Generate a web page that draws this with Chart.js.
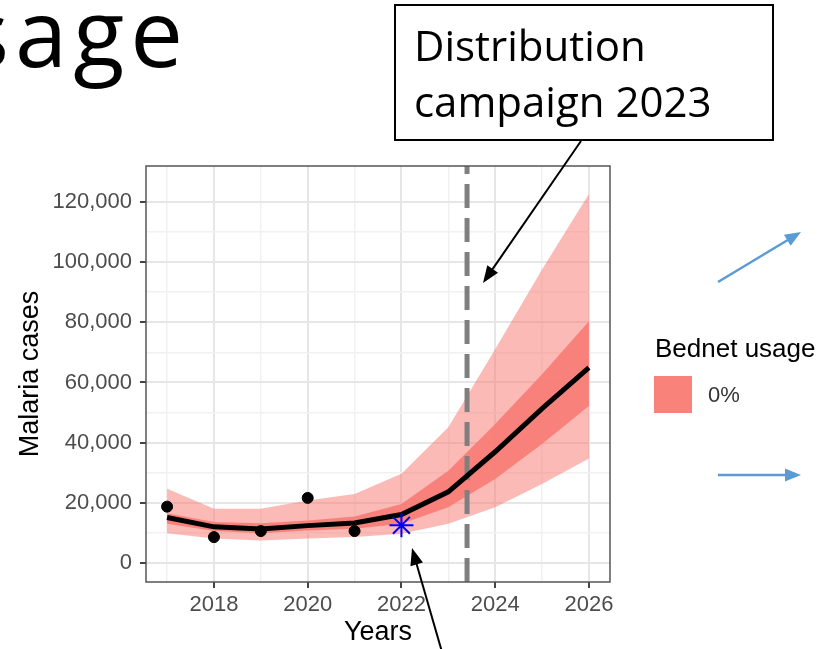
<!DOCTYPE html>
<html>
<head>
<meta charset="utf-8">
<script src="https://cdn.jsdelivr.net/npm/chart.js@4.4.1/dist/chart.umd.min.js"></script>
<style>
  html, body { margin: 0; padding: 0; background: #ffffff; }
  #wrap { width: 830px; height: 649px; position: relative; }
</style>
</head>
<body>
<div id="wrap"><canvas id="graph"></canvas></div>
<script>
// model output, yearly
const years = [2017, 2018, 2019, 2020, 2021, 2022, 2023, 2024, 2025, 2026]
const median = [15200, 12100, 11400, 12500, 13400, 16200, 23700, 37000, 51300, 64900]
const outerLow = [10000, 8200, 7600, 8200, 8700, 9800, 13100, 18600, 26300, 34800]
const outerHigh = [24700, 18100, 18100, 20800, 23000, 29700, 45100, 71000, 97500, 122500]
const innerLow = [13100, 10700, 10000, 10900, 11500, 13100, 18600, 28000, 39600, 52200]
const innerHigh = [16600, 13700, 13300, 14200, 15500, 19700, 30700, 46200, 62700, 80300]

// observed cases
const observedYears = [2017, 2018, 2019, 2020, 2021]
const observed = [18800, 8700, 10700, 21700, 10700]
const surveyYears = [2022]
const survey = [12600]

const campaignYear = 2023.4

// axes: grid positions (labels only on the major ones)
const xGrid = [2017, 2018, 2019, 2020, 2021, 2022, 2023, 2024, 2025, 2026]
const xLabels = [2018, 2020, 2022, 2024, 2026]
const yGrid = [0, 10000, 20000, 30000, 40000, 50000, 60000, 70000, 80000, 90000, 100000, 110000, 120000]
const yLabels = [0, 20000, 40000, 60000, 80000, 100000, 120000]
const yMin = -6200
const yMax = 131800
const xMin = 2016.55
const xMax = 2026.45

const legendTitle = "Bednet usage"
const legendLabels = ["0%"]
const calloutLines = ["Distribution", "campaign 2023"]

const toPoints = (xs, ys) => xs.map((x, i) => ({ x, y: ys[i] }))

const band = (values, order, fill, color) => ({
    data: toPoints(years, values),
    borderWidth: 0,
    pointRadius: 0,
    fill: fill,
    backgroundColor: color,
    order: order,
})

const isMajor = (labels) => (c) => c.tick && labels.includes(c.tick.value)
const gridStyle = (labels) => ({
    color: (c) => (isMajor(labels)(c) ? "#e6e6e6" : "#f1f1f1"),
    lineWidth: (c) => (isMajor(labels)(c) ? 2 : 1.5),
    tickColor: (c) => (isMajor(labels)(c) ? "#444444" : "transparent"),
    tickLength: 6,
    tickWidth: 2,
})

const drawArrow = (ctx, x1, y1, x2, y2, color, width, headLen, headW) => {
    const ang = Math.atan2(y2 - y1, x2 - x1)
    const bx = x2 - Math.cos(ang) * headLen
    const by = y2 - Math.sin(ang) * headLen
    ctx.save()
    ctx.strokeStyle = color
    ctx.fillStyle = color
    ctx.lineWidth = width
    ctx.beginPath()
    ctx.moveTo(x1, y1)
    ctx.lineTo(bx + Math.cos(ang) * 2, by + Math.sin(ang) * 2)
    ctx.stroke()
    ctx.beginPath()
    ctx.moveTo(x2, y2)
    ctx.lineTo(bx + Math.sin(ang) * headW / 2, by - Math.cos(ang) * headW / 2)
    ctx.lineTo(bx - Math.sin(ang) * headW / 2, by + Math.cos(ang) * headW / 2)
    ctx.closePath()
    ctx.fill()
    ctx.restore()
}

const decorations = {
    id: "decorations",
    afterDraw(chart) {
        const ctx = chart.ctx
        const area = chart.chartArea

        // panel border
        ctx.save()
        ctx.strokeStyle = "#555555"
        ctx.lineWidth = 1.5
        ctx.strokeRect(area.left, area.top, area.right - area.left, area.bottom - area.top)
        ctx.restore()

        // slide heading, cut at the left edge
        ctx.save()
        ctx.fillStyle = "#000000"
        ctx.font = "94px 'Open Sans'"
        ctx.letterSpacing = "6px"
        ctx.textAlign = "right"
        ctx.textBaseline = "alphabetic"
        ctx.fillText("sage", 189, 67)
        ctx.restore()

        // callout box
        ctx.save()
        ctx.fillStyle = "#ffffff"
        ctx.fillRect(395, 5, 378, 135)
        ctx.strokeStyle = "#000000"
        ctx.lineWidth = 2
        ctx.strokeRect(395, 5, 378, 135)
        ctx.fillStyle = "#000000"
        ctx.font = "42px 'Open Sans'"
        ctx.textAlign = "left"
        ctx.fillText(calloutLines[0], 414, 61)
        ctx.fillText(calloutLines[1], 414, 117)
        ctx.restore()

        drawArrow(ctx, 581, 141, 483, 283, "#000000", 2, 17, 13)
        drawArrow(ctx, 442, 652, 412, 548, "#000000", 2, 17, 13)

        drawArrow(ctx, 718, 282, 801, 232, "#5B9BD5", 2.5, 16, 13)
        drawArrow(ctx, 718, 475, 801, 475, "#5B9BD5", 2.5, 16, 13)

        // legend
        ctx.save()
        ctx.fillStyle = "#000000"
        ctx.font = "26px 'Liberation Sans'"
        ctx.textAlign = "left"
        ctx.fillText(legendTitle, 655, 357)
        ctx.fillStyle = "rgba(248,118,109,0.9)"
        ctx.fillRect(654, 376, 38, 37)
        ctx.fillStyle = "#333333"
        ctx.font = "22px 'Liberation Sans'"
        ctx.fillText(legendLabels[0], 708, 402)
        ctx.restore()
    },
}

Chart.defaults.font.family = "'Liberation Sans', Arial, sans-serif"

const ctx1 = document.getElementById("graph")

const config = {
    type: "line",
    data: {
        datasets: [
            band(outerLow, 20, false, "transparent"),
            band(outerHigh, 10, 0, "rgba(248,118,109,0.5)"),
            band(innerLow, 20, false, "transparent"),
            band(innerHigh, 9, 2, "rgba(248,118,109,0.8)"),
            {
                // campaign start
                data: [
                    { x: campaignYear, y: yMin },
                    { x: campaignYear, y: yMax },
                ],
                borderColor: "#7f7f7f",
                borderWidth: 5,
                borderDash: [24, 10],
                pointRadius: 0,
                order: 8,
            },
            {
                data: toPoints(years, median),
                borderColor: "#000000",
                borderWidth: 5,
                pointRadius: 0,
                tension: 0,
                order: 7,
            },
            {
                data: toPoints(observedYears, observed),
                showLine: false,
                pointRadius: 5.5,
                pointBackgroundColor: "#000000",
                pointBorderColor: "#000000",
                order: 6,
            },
            {
                data: toPoints(surveyYears, survey),
                showLine: false,
                pointStyle: "star",
                pointRadius: 12,
                pointBorderWidth: 2,
                pointBorderColor: "#0000ff",
                order: 5,
            },
        ],
    },
    options: {
        responsive: true,
        maintainAspectRatio: false,
        animation: false,
        layout: {
            padding: { top: 166, right: 220, bottom: 0, left: 0 },
        },
        plugins: {
            legend: { display: false },
            tooltip: { enabled: false },
        },
        scales: {
            x: {
                type: "linear",
                min: xMin,
                max: xMax,
                border: { display: false },
                afterBuildTicks: (scale) => {
                    scale.ticks = xGrid.map((v) => ({ value: v }))
                },
                ticks: {
                    autoSkip: false,
                    maxRotation: 0,
                    padding: 4,
                    color: "#4d4d4d",
                    font: { size: 22 },
                    callback: (v) => (xLabels.includes(v) ? String(v) : ""),
                },
                grid: gridStyle(xLabels),
                title: {
                    display: true,
                    text: "Years",
                    color: "#000000",
                    font: { size: 27 },
                    padding: { top: 0, bottom: 0 },
                },
                afterFit: (scale) => {
                    scale.height = 67
                },
            },
            y: {
                min: yMin,
                max: yMax,
                border: { display: false },
                afterBuildTicks: (scale) => {
                    scale.ticks = yGrid.map((v) => ({ value: v }))
                },
                ticks: {
                    autoSkip: false,
                    padding: 8,
                    color: "#4d4d4d",
                    font: { size: 22 },
                    callback: (v) => (yLabels.includes(v) ? v.toLocaleString("en-US") : ""),
                },
                grid: gridStyle(yLabels),
                title: {
                    display: true,
                    text: "Malaria cases",
                    color: "#000000",
                    font: { size: 27 },
                    padding: { top: 14, bottom: 0 },
                },
                afterFit: (scale) => {
                    scale.width = 146
                },
            },
        },
    },
    plugins: [decorations],
}

const chart1 = new Chart(ctx1, config)
</script>
</body>
</html>
